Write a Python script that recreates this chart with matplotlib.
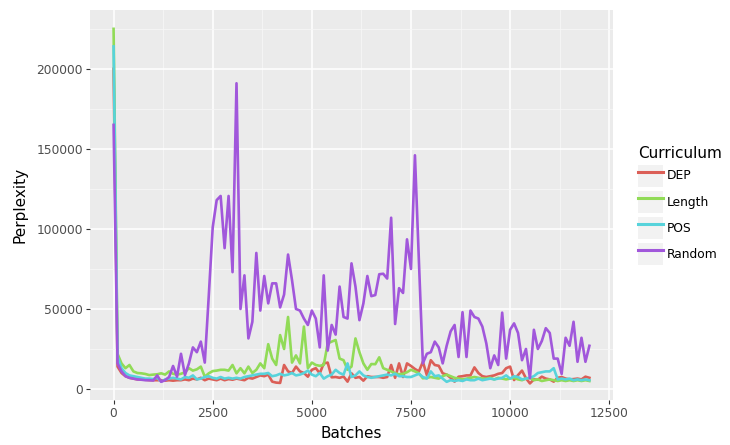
import matplotlib
matplotlib.use("Agg")
import matplotlib.pyplot as plt
from matplotlib.lines import Line2D
from matplotlib.patches import Patch
from matplotlib.ticker import FuncFormatter, MultipleLocator

# perplexity logged every 100 batches, 0 .. 12000
dep = [
    200000, 14000, 10000, 8000, 7000, 6500, 6000, 6000, 5800, 5500,
    5500, 5500, 5500, 5200, 5500, 5200, 5500, 5500, 6000, 5500,
    6500, 6000, 7000, 5500, 6500, 6000, 5500, 6500, 5500, 6200,
    5800, 6500, 6000, 5500, 7000, 6500, 7500, 8500, 8000, 9000,
    4600, 4000, 3800, 15000, 11000, 10000, 14000, 11000, 10000, 7700,
    12000, 13000, 9800, 16000, 16500, 7300, 7500, 7000, 7800, 4600,
    9800, 7000, 7500, 5200, 8000, 7500, 7500, 7500, 7000, 7500,
    15000, 7000, 16000, 7500, 16000, 14400, 12500, 11000, 17000, 8700,
    18000, 15000, 14500, 9800, 9000, 7000, 4600, 7700, 8000, 8500,
    8500, 13500, 10000, 8000, 7500, 8000, 8500, 9500, 10000, 13000,
    14000, 5600, 8700, 11500, 6700, 3500, 6000, 5800, 7700, 6500,
    6000, 4600, 7000, 7500, 6500, 6000, 6200, 6500, 6000, 7700,
    7000,
]
length = [
    225000, 22000, 16000, 13000, 15000, 11000, 10000, 9800, 9400, 8700,
    9000, 9200, 9800, 9000, 11000, 9500, 9000, 9500, 10500, 13000,
    11500, 12300, 14000, 7700, 9800, 11200, 11500, 12000, 12000, 11500,
    15000, 9800, 13000, 9800, 14000, 10000, 12000, 16000, 13000, 28000,
    19000, 15000, 33700, 25000, 45000, 16500, 21000, 16000, 39000, 13000,
    16500, 15000, 14500, 15000, 28500, 29600, 30600, 19000, 18000, 12000,
    14000, 31600, 23000, 16000, 12000, 15600, 15500, 19800, 13000, 12000,
    11000, 9800, 9200, 9500, 10500, 12000, 11000, 9800, 6700, 7000,
    7500, 7000, 6500, 8000, 9000, 8000, 7000, 6500, 6000, 6500,
    7000, 7500, 7000, 6500, 6500, 7000, 6000, 7000, 6500, 6000,
    6500, 7000, 6000, 5500, 6500, 7000, 5500, 6000, 5000, 5500,
    6000, 5500, 5000, 5500, 5000, 5500, 5000, 5500, 5000, 5500,
    5000,
]
pos = [
    214000, 20000, 13000, 10000, 8500, 8000, 7500, 7000, 6500, 6500,
    6200, 7000, 4600, 6000, 6500, 7000, 6500, 6000, 7500, 7000,
    8500, 6000, 6500, 7500, 8000, 7000, 6500, 7500, 6500, 7000,
    6500, 7000, 6500, 7500, 8000, 8500, 9000, 9500, 9500, 10000,
    8000, 8500, 9500, 8500, 9000, 10000, 8500, 9000, 10000, 11500,
    9000, 8000, 10000, 6500, 8000, 9000, 12000, 10000, 9000, 16000,
    7500, 8500, 11000, 8500, 7500, 7000, 7500, 8000, 8500, 9000,
    8500, 9500, 8000, 8000, 7500, 7500, 8500, 9500, 7500, 6500,
    11000, 8000, 8500, 6500, 4500, 5500, 5000, 5500, 5000, 6000,
    5500, 5500, 6500, 5500, 6000, 6500, 6000, 6500, 7000, 8500,
    6500, 8000, 7500, 6000, 6500, 7000, 8000, 10000, 10500, 11000,
    11000, 13000, 6000, 6500, 6000, 6500, 5500, 6000, 5500, 6000,
    5500,
]
random_order = [
    165000, 16000, 11000, 8000, 7000, 6500, 6000, 5800, 5500, 5500,
    5300, 8500, 4500, 5500, 7500, 14400, 7700, 22000, 8700, 16000,
    26000, 23000, 29600, 16500, 58000, 101000, 118000, 120600, 88000, 120600,
    73000, 191000, 50000, 71000, 31600, 42000, 85000, 49000, 70600, 53500,
    66000, 66000, 51000, 59000, 84000, 68000, 50000, 49000, 44000, 40000,
    49000, 44000, 26000, 71000, 24000, 40000, 34000, 64000, 45000, 44000,
    78500, 64000, 43000, 53500, 70600, 58000, 58700, 71700, 72000, 69000,
    107000, 40600, 63000, 60000, 93500, 75000, 146000, 80000, 16000, 22000,
    23000, 29600, 26000, 16000, 27000, 36000, 40000, 20000, 48000, 20000,
    49000, 45000, 44000, 39000, 28500, 13000, 21000, 15000, 47700, 19000,
    37000, 41000, 35000, 18000, 25000, 6700, 37000, 25000, 30000, 38000,
    35000, 19000, 19000, 9400, 32000, 27000, 42000, 17000, 32000, 17000,
    27000,
]

names = ["DEP", "Length", "POS", "Random"]
series = [dep, length, pos, random_order]
colors = ["#DB5F57", "#91DB57", "#57D3DB", "#A157DB"]

fig = plt.figure(figsize=(7.3, 4.45), dpi=100)
ax = fig.add_axes([0.123, 0.101, 0.717, 0.877])
ax.set_facecolor("#EBEBEB")

for name, vals, c in zip(names, series, colors):
    batches = [i * 100 for i in range(len(vals))]
    ax.plot(batches, vals, color=c, lw=1.9, label=name, solid_joinstyle="round")

ax.set_xlim(-600, 12600)
ax.set_ylim(-6900, 236900)
ax.xaxis.set_major_locator(MultipleLocator(2500))
ax.xaxis.set_minor_locator(MultipleLocator(1250))
ax.yaxis.set_major_locator(MultipleLocator(50000))
ax.yaxis.set_minor_locator(MultipleLocator(25000))
ax.yaxis.set_major_formatter(FuncFormatter(lambda v, p: f"{int(v)}"))
ax.grid(which="major", color="white", lw=1.1)
ax.grid(which="minor", color="#F7F7F7", lw=0.55)
ax.set_axisbelow(True)
for s in ax.spines.values():
    s.set_visible(False)
ax.tick_params(which="major", length=3, width=0.8, color="#333333",
               labelsize=8.8, labelcolor="#4D4D4D", pad=2)
ax.tick_params(which="minor", length=0)

ax.set_xlabel("Batches", fontsize=11, labelpad=4)
ax.set_ylabel("Perplexity", fontsize=11, labelpad=6)

handles = [(Patch(facecolor="#F2F2F2", edgecolor="none"),
            Line2D([], [], color=c, lw=2.2)) for c in colors]
leg = ax.legend(handles, names, title="Curriculum", loc="center left",
                bbox_to_anchor=(0.866, 0.538), bbox_transform=fig.transFigure,
                frameon=False, fontsize=8.8, title_fontsize=11,
                handlelength=2.0, handleheight=2.45, labelspacing=0.3,
                handletextpad=0.3, borderpad=0, alignment="left")

fig.savefig("out.png", dpi=100)
